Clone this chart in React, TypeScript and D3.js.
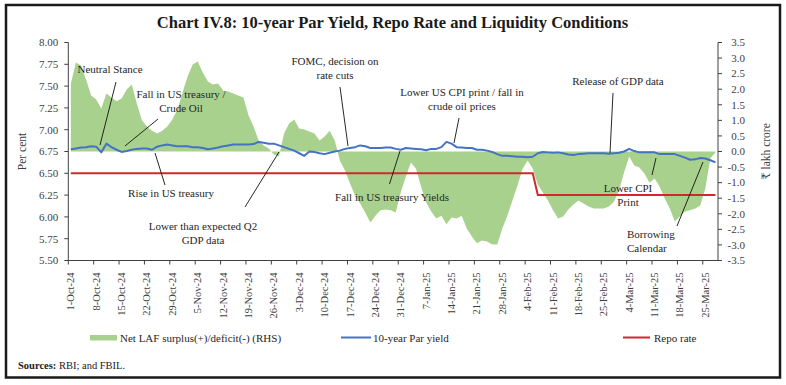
import React, { useRef, useEffect } from 'react';
import * as d3 from 'd3';

// weekly tick labels, one every 5 trading days
const tickLabels = [
  '1-Oct-24', '8-Oct-24', '15-Oct-24', '22-Oct-24', '29-Oct-24', '5-Nov-24',
  '12-Nov-24', '19-Nov-24', '26-Nov-24', '3-Dec-24', '10-Dec-24', '17-Dec-24',
  '24-Dec-24', '31-Dec-24', '7-Jan-25', '14-Jan-25', '21-Jan-25', '28-Jan-25',
  '4-Feb-25', '11-Feb-25', '18-Feb-25', '25-Feb-25', '4-Mar-25', '11-Mar-25',
  '18-Mar-25', '25-Mar-25',
];
const tickEvery = 5;

// Net LAF surplus(+)/deficit(-), ₹ lakh crore (RHS)
const lafSurplus = [
  2.18, 2.86, 2.76, 2.31, 1.8, 1.67, 1.38, 1.86, 1.73, 1.61,
  1.7, 1.99, 2.15, 1.54, 1.0, 0.8, 0.67, 0.58, 0.67, 0.8,
  1.03, 1.35, 1.89, 2.41, 2.79, 2.89, 2.54, 2.25, 2.15, 2.18,
  1.96, 1.93, 1.86, 1.8, 1.73, 1.16, 0.8, 0.35, 0.19, 0.1,
  -0.1, -0.16, 0.58, 0.9, 1.03, 0.74, 0.71, 0.64, 0.58, 0.35,
  0.48, 0.67, 0.35, -0.29, -0.61, -1.03, -1.41, -1.67, -1.96, -2.28,
  -2.06, -1.89, -1.86, -1.89, -1.96, -1.32, -0.8, -0.35, -0.55, -1.12,
  -1.64, -1.93, -2.15, -2.06, -2.34, -2.12, -2.15, -2.06, -2.47, -2.73,
  -2.95, -2.86, -2.89, -2.99, -2.99, -2.47, -2.06, -1.57, -1.09, -0.55,
  -0.29, -0.55, -1.06, -1.32, -1.57, -1.89, -2.15, -2.09, -1.86, -1.7,
  -1.57, -1.67, -1.77, -1.83, -1.83, -1.83, -1.77, -1.61, -1.25, -0.67,
  -0.16, -0.45, -0.51, -0.71, -1.0, -0.87, -1.12, -1.51, -1.83, -2.25,
  -2.09, -1.93, -1.89, -1.83, -1.73, -1.19, -0.22, -0.03,
];

// 10-year par yield, per cent
const parYield = [
  6.775, 6.785, 6.795, 6.8, 6.81, 6.805, 6.74, 6.84, 6.8, 6.77,
  6.745, 6.755, 6.77, 6.78, 6.785, 6.785, 6.77, 6.805, 6.82, 6.83,
  6.82, 6.81, 6.81, 6.81, 6.8, 6.8, 6.79, 6.775, 6.785, 6.795,
  6.81, 6.82, 6.83, 6.83, 6.83, 6.83, 6.835, 6.86, 6.85, 6.84,
  6.84, 6.82, 6.8, 6.78, 6.76, 6.73, 6.7, 6.75, 6.745, 6.73,
  6.72, 6.735, 6.75, 6.76, 6.78, 6.79, 6.8, 6.82, 6.81, 6.79,
  6.79, 6.79, 6.795, 6.795, 6.78, 6.77, 6.79, 6.785, 6.78, 6.775,
  6.765, 6.78, 6.78, 6.8, 6.86, 6.84, 6.8, 6.795, 6.79, 6.79,
  6.77, 6.77, 6.76, 6.745, 6.72, 6.7, 6.7, 6.695, 6.69, 6.69,
  6.685, 6.69, 6.73, 6.745, 6.74, 6.735, 6.74, 6.73, 6.715, 6.71,
  6.72, 6.725, 6.73, 6.73, 6.73, 6.73, 6.725, 6.73, 6.735, 6.75,
  6.78, 6.755, 6.74, 6.74, 6.74, 6.74, 6.72, 6.72, 6.72, 6.72,
  6.7, 6.68, 6.655, 6.66, 6.675, 6.67, 6.65, 6.625,
];

// policy repo rate, per cent
const repoRate = [
  6.5, 6.5, 6.5, 6.5, 6.5, 6.5, 6.5, 6.5, 6.5, 6.5,
  6.5, 6.5, 6.5, 6.5, 6.5, 6.5, 6.5, 6.5, 6.5, 6.5,
  6.5, 6.5, 6.5, 6.5, 6.5, 6.5, 6.5, 6.5, 6.5, 6.5,
  6.5, 6.5, 6.5, 6.5, 6.5, 6.5, 6.5, 6.5, 6.5, 6.5,
  6.5, 6.5, 6.5, 6.5, 6.5, 6.5, 6.5, 6.5, 6.5, 6.5,
  6.5, 6.5, 6.5, 6.5, 6.5, 6.5, 6.5, 6.5, 6.5, 6.5,
  6.5, 6.5, 6.5, 6.5, 6.5, 6.5, 6.5, 6.5, 6.5, 6.5,
  6.5, 6.5, 6.5, 6.5, 6.5, 6.5, 6.5, 6.5, 6.5, 6.5,
  6.5, 6.5, 6.5, 6.5, 6.5, 6.5, 6.5, 6.5, 6.5, 6.5,
  6.5, 6.5, 6.25, 6.25, 6.25, 6.25, 6.25, 6.25, 6.25, 6.25,
  6.25, 6.25, 6.25, 6.25, 6.25, 6.25, 6.25, 6.25, 6.25, 6.25,
  6.25, 6.25, 6.25, 6.25, 6.25, 6.25, 6.25, 6.25, 6.25, 6.25,
  6.25, 6.25, 6.25, 6.25, 6.25, 6.25, 6.25, 6.25,
];

const leftTicks = [5.5, 5.75, 6.0, 6.25, 6.5, 6.75, 7.0, 7.25, 7.5, 7.75, 8.0];
const rightTicks = [-3.5, -3, -2.5, -2, -1.5, -1, -0.5, 0, 0.5, 1, 1.5, 2, 2.5, 3, 3.5];

// text notes with leader lines (pixel layout)
const notes = [
  { text: ['Neutral Stance'], x: 110, y: 73, anchor: 'middle', line: [116, 82, 100, 145] },
  { text: ['Fall in US treasury /', 'Crude Oil'], x: 181, y: 98, anchor: 'middle', line: [158, 119, 125, 146] },
  { text: ['Rise in US treasury'], x: 171, y: 197, anchor: 'middle', line: [155, 153, 165, 185] },
  { text: ['Lower than expected Q2', 'GDP data'], x: 203, y: 230, anchor: 'middle', line: [245, 207, 279, 152] },
  { text: ['FOMC, decision on', 'rate cuts'], x: 335, y: 65, anchor: 'middle', line: [340, 87, 348, 146] },
  { text: ['Fall in US treasury Yields'], x: 392, y: 201, anchor: 'middle', line: [389.5, 184, 400, 151] },
  { text: ['Lower US CPI print / fall in', 'crude oil prices'], x: 462, y: 96, anchor: 'middle', line: [459, 118, 454, 143] },
  { text: ['Release of GDP data'], x: 618, y: 85, anchor: 'middle', line: [613, 93, 610, 153] },
  { text: ['Lower CPI', 'Print'], x: 628, y: 192, anchor: 'middle', line: [652, 175, 656, 158] },
  { text: ['Borrowing', 'Calendar'], x: 627, y: 238, anchor: 'start', line: [677, 226, 703, 162] },
];

const W = 786;
const H = 385;
const plot = { left: 68.3, right: 718, top: 42.5, bottom: 260.5 };
const serif = "'Liberation Serif', 'DejaVu Serif', serif";
const green = '#a9d18e';
const blue = '#4472c4';
const red = '#d0282d';
const ink = '#262626';

const App: React.FC = () => {
  const ref = useRef<HTMLDivElement>(null);

  useEffect(() => {
    document.body.style.margin = '0';
    const idx = d3.range(parYield.length);

    const x = d3.scalePoint<number>().domain(idx).range([plot.left, plot.right]).padding(0.5);
    const yL = d3.scaleLinear().domain([5.5, 8]).range([plot.bottom, plot.top]);
    const yR = d3.scaleLinear().domain([-3.5, 3.5]).range([plot.bottom, plot.top]);

    d3.select(ref.current).selectAll('svg').remove();
    const svg = d3
      .select(ref.current)
      .append('svg')
      .attr('width', W)
      .attr('height', H)
      .attr('viewBox', `0 0 ${W} ${H}`)
      .style('display', 'block')
      .style('background', '#fff')
      .style('font-family', serif);

    /** frame + title */
    svg.append('rect')
      .attr('x', 6).attr('y', 5).attr('width', 774).attr('height', 372.5)
      .attr('fill', 'none').attr('stroke', '#1a1a1a').attr('stroke-width', 2.5);

    svg.append('text')
      .attr('x', 392.5).attr('y', 28)
      .attr('text-anchor', 'middle')
      .attr('font-size', 16.5).attr('font-weight', 'bold').attr('fill', '#1a1a1a')
      .text('Chart IV.8: 10-year Par Yield, Repo Rate and Liquidity Conditions');

    /** LAF area (RHS) */
    const area = d3.area<number>()
      .x((d, i) => x(i) as number)
      .y0(yR(0))
      .y1((d) => yR(d));
    svg.append('path').datum(lafSurplus).attr('d', area).attr('fill', green);

    /** lines */
    const lineL = d3.line<number>()
      .x((d, i) => x(i) as number)
      .y((d) => yL(d));
    svg.append('path').datum(repoRate).attr('d', lineL)
      .attr('fill', 'none').attr('stroke', red).attr('stroke-width', 2);
    svg.append('path').datum(parYield).attr('d', lineL)
      .attr('fill', 'none').attr('stroke', blue).attr('stroke-width', 2).attr('stroke-linejoin', 'round');

    /** axes */
    const axisColor = '#404040';
    const g = svg.append('g').attr('stroke', axisColor).attr('stroke-width', 1);
    g.append('line').attr('x1', plot.left).attr('x2', plot.left).attr('y1', plot.top).attr('y2', plot.bottom);
    g.append('line').attr('x1', plot.right).attr('x2', plot.right).attr('y1', plot.top).attr('y2', plot.bottom);
    g.append('line').attr('x1', plot.left).attr('x2', plot.right).attr('y1', plot.bottom).attr('y2', plot.bottom);

    leftTicks.forEach((t) => {
      g.append('line').attr('x1', plot.left - 4).attr('x2', plot.left).attr('y1', yL(t)).attr('y2', yL(t));
      svg.append('text')
        .attr('x', plot.left - 10).attr('y', yL(t) + 3.8)
        .attr('text-anchor', 'end').attr('font-size', 11).attr('fill', axisColor)
        .text(t.toFixed(2));
    });

    rightTicks.forEach((t) => {
      g.append('line').attr('x1', plot.right).attr('x2', plot.right + 4).attr('y1', yR(t)).attr('y2', yR(t));
      svg.append('text')
        .attr('x', 745).attr('y', yR(t) + 3.8)
        .attr('text-anchor', 'end').attr('font-size', 11).attr('fill', axisColor)
        .text(t.toFixed(1));
    });

    const step = x.step();
    for (let k = 0; k <= tickLabels.length; k++) {
      const tx = plot.left + k * tickEvery * step;
      if (tx > plot.right + 0.5) break;
      g.append('line').attr('x1', tx).attr('x2', tx).attr('y1', plot.bottom).attr('y2', plot.bottom + 4);
    }
    tickLabels.forEach((lab, k) => {
      const cx = x(k * tickEvery) as number;
      svg.append('text')
        .attr('transform', `translate(${cx + 3.5},${plot.bottom + 12}) rotate(-90)`)
        .attr('text-anchor', 'end').attr('font-size', 10.5).attr('fill', axisColor)
        .text(lab);
    });

    svg.append('text')
      .attr('transform', `translate(26,${(plot.top + plot.bottom) / 2}) rotate(-90)`)
      .attr('text-anchor', 'middle').attr('font-size', 11.5).attr('fill', axisColor)
      .text('Per cent');
    svg.append('text')
      .attr('transform', `translate(770,${(plot.top + plot.bottom) / 2}) rotate(-90)`)
      .attr('text-anchor', 'middle').attr('font-size', 11.5).attr('fill', axisColor)
      .text('₹ lakh crore');

    /** annotations */
    notes.forEach((n) => {
      svg.append('line')
        .attr('x1', n.line[0]).attr('y1', n.line[1]).attr('x2', n.line[2]).attr('y2', n.line[3])
        .attr('stroke', '#111').attr('stroke-width', 0.9);
      const t = svg.append('text')
        .attr('text-anchor', n.anchor).attr('font-size', 11).attr('fill', ink);
      n.text.forEach((s, j) => {
        t.append('tspan').attr('x', n.x).attr('y', n.y + j * 13.5).text(s);
      });
    });

    /** legend */
    const ly = 337.5;
    svg.append('rect').attr('x', 90).attr('y', ly - 2.5).attr('width', 27).attr('height', 5.5).attr('fill', green);
    svg.append('text').attr('x', 120).attr('y', ly + 4).attr('font-size', 11).attr('fill', ink)
      .text('Net LAF surplus(+)/deficit(-) (RHS)');
    svg.append('line').attr('x1', 341).attr('x2', 371).attr('y1', ly).attr('y2', ly)
      .attr('stroke', blue).attr('stroke-width', 2);
    svg.append('text').attr('x', 373).attr('y', ly + 4).attr('font-size', 11).attr('fill', ink)
      .text('10-year Par yield');
    svg.append('line').attr('x1', 623).attr('x2', 650).attr('y1', ly).attr('y2', ly)
      .attr('stroke', red).attr('stroke-width', 2);
    svg.append('text').attr('x', 654).attr('y', ly + 4).attr('font-size', 11).attr('fill', ink)
      .text('Repo rate');

    /** source */
    const src = svg.append('text').attr('x', 18).attr('y', 369).attr('font-size', 10.5).attr('fill', '#1a1a1a');
    src.append('tspan').attr('font-weight', 'bold').text('Sources:');
    src.append('tspan').text(' RBI; and FBIL.');
  }, []);

  return <div ref={ref} />;
};

export default App;
